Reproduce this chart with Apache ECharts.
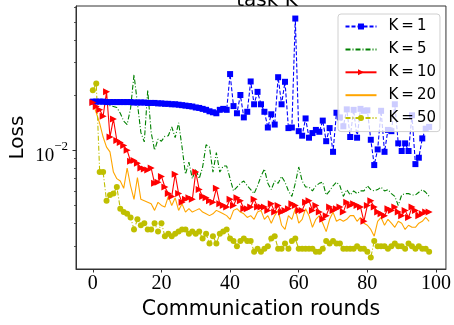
<!DOCTYPE html>
<html>
<head>
<meta charset="utf-8">
<script src="https://cdn.jsdelivr.net/npm/echarts@6/dist/echarts.min.js"></script>
<style>
  html, body { margin: 0; padding: 0; background: #fff; }
  #chart { width: 454px; height: 325px; }
</style>
</head>
<body>
<div id="chart"></div>
<script>
// communication rounds 0..98
var rounds = [0, 1, 2, 3, 4, 5, 6, 7, 8, 9, 10, 11, 12, 13, 14, 15, 16, 17, 18, 19,
    20, 21, 22, 23, 24, 25, 26, 27, 28, 29, 30, 31, 32, 33, 34, 35, 36, 37, 38, 39,
    40, 41, 42, 43, 44, 45, 46, 47, 48, 49, 50, 51, 52, 53, 54, 55, 56, 57, 58, 59,
    60, 61, 62, 63, 64, 65, 66, 67, 68, 69, 70, 71, 72, 73, 74, 75, 76, 77, 78, 79,
    80, 81, 82, 83, 84, 85, 86, 87, 88, 89, 90, 91, 92, 93, 94, 95, 96, 97, 98];

var lossK1 = [0.0184, 0.0184, 0.0184, 0.0184, 0.0183, 0.0183, 0.0183, 0.0183, 0.0183, 0.0183,
    0.0183, 0.0183, 0.0182, 0.0182, 0.0182, 0.0182, 0.0181, 0.0181, 0.0181, 0.0180,
    0.0180, 0.0179, 0.0179, 0.0178, 0.0178, 0.0177, 0.0176, 0.0175, 0.0174, 0.0173,
    0.0171, 0.0170, 0.0168, 0.0166, 0.0163, 0.0161, 0.0159, 0.0166, 0.0168, 0.0166,
    0.0260, 0.0174, 0.0159, 0.0200, 0.0151, 0.0162, 0.0237, 0.0178, 0.0208, 0.0178,
    0.0162, 0.0133, 0.0157, 0.0138, 0.0250, 0.0178, 0.0236, 0.0132, 0.0133, 0.0522,
    0.0127, 0.0120, 0.0149, 0.0117, 0.0124, 0.0129, 0.0126, 0.0145, 0.0112, 0.0132,
    0.0098, 0.0160, 0.0151, 0.0135, 0.0167, 0.0118, 0.0166, 0.0117, 0.0168, 0.0164,
    0.0165, 0.0114, 0.0083, 0.0101, 0.0164, 0.0098, 0.0129, 0.0127, 0.0178, 0.0109,
    0.0099, 0.0109, 0.0099, 0.0155, 0.0084, 0.0091, 0.0116, 0.0131, 0.0134];

var lossK5 = [0.0182, 0.0181, 0.0180, 0.0179, 0.0178, 0.0175, 0.0173, 0.0171, 0.0159, 0.0144,
    0.0138, 0.0169, 0.0258, 0.0180, 0.0125, 0.0111, 0.0213, 0.0125, 0.0100, 0.0115,
    0.0112, 0.0119, 0.0120, 0.0134, 0.0117, 0.0141, 0.0104, 0.0074, 0.0086, 0.0070,
    0.0079, 0.0070, 0.0081, 0.0107, 0.0104, 0.0076, 0.0097, 0.0076, 0.0082, 0.0082,
    0.0070, 0.0060, 0.0063, 0.0066, 0.0068, 0.0064, 0.0061, 0.0058, 0.0064, 0.0072,
    0.0079, 0.0066, 0.0061, 0.0068, 0.0066, 0.0072, 0.0067, 0.0060, 0.0056, 0.0066,
    0.0081, 0.0068, 0.0063, 0.0063, 0.0060, 0.0064, 0.0066, 0.0067, 0.0057, 0.0060,
    0.0064, 0.0067, 0.0064, 0.0056, 0.0061, 0.0057, 0.0060, 0.0058, 0.0060, 0.0060,
    0.0064, 0.0061, 0.0060, 0.0061, 0.0063, 0.0060, 0.0061, 0.0058, 0.0056, 0.0050,
    0.0057, 0.0058, 0.0058, 0.0057, 0.0057, 0.0059, 0.0061, 0.0059, 0.0056];

var lossK10 = [0.0182, 0.0173, 0.0166, 0.0153, 0.0208, 0.0118, 0.0148, 0.0113, 0.0110, 0.0106,
    0.0100, 0.0087, 0.0088, 0.0085, 0.0080, 0.0079, 0.0078, 0.0080, 0.0066, 0.0067,
    0.0072, 0.0063, 0.0058, 0.0056, 0.0074, 0.0058, 0.0052, 0.0054, 0.0055, 0.0054,
    0.0076, 0.0061, 0.0056, 0.0055, 0.0053, 0.0052, 0.0062, 0.0051, 0.0050, 0.0049,
    0.0054, 0.0050, 0.0055, 0.0053, 0.0048, 0.0048, 0.0049, 0.0054, 0.0049, 0.0049,
    0.0049, 0.0047, 0.0051, 0.0046, 0.0050, 0.0046, 0.0047, 0.0048, 0.0051, 0.0050,
    0.0047, 0.0047, 0.0052, 0.0053, 0.0047, 0.0050, 0.0046, 0.0042, 0.0044, 0.0049,
    0.0047, 0.0048, 0.0049, 0.0046, 0.0052, 0.0050, 0.0051, 0.0050, 0.0049, 0.0041,
    0.0050, 0.0053, 0.0049, 0.0046, 0.0045, 0.0044, 0.0048, 0.0047, 0.0049, 0.0046,
    0.0044, 0.0047, 0.0043, 0.0049, 0.0047, 0.0044, 0.0045, 0.0046, 0.0046];

var lossK20 = [0.0182, 0.0160, 0.0140, 0.0118, 0.0104, 0.0098, 0.0076, 0.0070, 0.0068, 0.0062,
    0.0080, 0.0064, 0.0054, 0.0071, 0.0054, 0.0053, 0.0052, 0.0051, 0.0047, 0.0052,
    0.0050, 0.0049, 0.0056, 0.0050, 0.0055, 0.0047, 0.0051, 0.0046, 0.0048, 0.0046,
    0.0047, 0.0048, 0.0046, 0.0045, 0.0044, 0.0045, 0.0047, 0.0046, 0.0045, 0.0044,
    0.0042, 0.0047, 0.0048, 0.0046, 0.0045, 0.0043, 0.0044, 0.0042, 0.0046, 0.0047,
    0.0042, 0.0044, 0.0040, 0.0044, 0.0047, 0.0039, 0.0037, 0.0044, 0.0042, 0.0048,
    0.0040, 0.0042, 0.0048, 0.0044, 0.0038, 0.0042, 0.0044, 0.0040, 0.0036, 0.0042,
    0.0046, 0.0041, 0.0042, 0.0041, 0.0042, 0.0044, 0.0044, 0.0041, 0.0043, 0.0040,
    0.0039, 0.0037, 0.0034, 0.0041, 0.0043, 0.0039, 0.0042, 0.0040, 0.0038, 0.0041,
    0.0040, 0.0037, 0.0039, 0.0038, 0.0038, 0.0040, 0.0041, 0.0043, 0.0041];

var lossK50 = [0.0212, 0.0231, 0.0076, 0.0076, 0.0053, 0.0057, 0.0058, 0.0063, 0.0048, 0.0046,
    0.0045, 0.0043, 0.0037, 0.0042, 0.0039, 0.0040, 0.0037, 0.0037, 0.0040, 0.0036,
    0.0040, 0.0034, 0.0035, 0.0034, 0.0035, 0.0036, 0.0037, 0.0037, 0.0035, 0.0036,
    0.0035, 0.0036, 0.0033, 0.0035, 0.0031, 0.0034, 0.0031, 0.0035, 0.0036, 0.0037,
    0.0033, 0.0032, 0.0030, 0.0032, 0.0033, 0.0032, 0.0032, 0.0028, 0.0029, 0.0028,
    0.0029, 0.0030, 0.0033, 0.0034, 0.0029, 0.0029, 0.0031, 0.0029, 0.0032, 0.0033,
    0.0029, 0.0029, 0.0029, 0.0029, 0.0029, 0.0028, 0.0028, 0.0029, 0.0032, 0.0031,
    0.0032, 0.0031, 0.0031, 0.0029, 0.0029, 0.0029, 0.0029, 0.0030, 0.0029, 0.0029,
    0.0028, 0.0026, 0.0032, 0.0030, 0.0030, 0.0030, 0.0029, 0.0030, 0.0031, 0.0030,
    0.0030, 0.0029, 0.0031, 0.0030, 0.0029, 0.0030, 0.0029, 0.0029, 0.0028];

var seriesNames = ['K\u2009=\u20091', 'K\u2009=\u20095', 'K\u2009=\u200910', 'K\u2009=\u200920', 'K\u2009=\u200950'];

var xTicks = [0, 20, 40, 60, 80, 100];
var yMajorTicks = [0.01];
var yMinorTicks = [0.003, 0.004, 0.005, 0.006, 0.007, 0.008, 0.009, 0.02, 0.03, 0.04, 0.05, 0.06];

var xMin = -4.9, xMax = 102.9;
var yMin = 0.002252, yMax = 0.0611;

var spine = '#333';
var sansFont = 'DejaVu Sans';
var serifFont = 'Liberation Serif';

function pairs(ys) {
    return rounds.map(function (x, i) { return [x, ys[i]]; });
}
function lg(v) { return Math.log10(v); }

// lines without markers: hide the marker the legend would draw
var noMarker = [false, true, false, true, false];
var legendData = seriesNames.map(function (n, i) {
    return noMarker[i] ? { name: n, itemStyle: { opacity: 0 } } : { name: n };
});

var chart = echarts.init(document.getElementById('chart'), null, { renderer: 'canvas' });

var option = {
    animation: false,
    backgroundColor: '#fff',
    title: {
        text: 'task K',
        left: 262,
        textAlign: 'center',
        top: -14,
        textStyle: { fontFamily: sansFont, fontSize: 20, fontWeight: 'normal', color: '#000' }
    },
    grid: {
        left: 76, right: 6.5, top: 6, bottom: 46.7,
        show: true, borderColor: spine, borderWidth: 1, backgroundColor: 'transparent'
    },
    legend: {
        data: legendData,
        orient: 'vertical',
        left: 338,
        top: 14,
        padding: [5, 4, 6, 6.5],
        itemWidth: 31,
        itemHeight: 7.5,
        itemGap: 7.9,
        backgroundColor: 'rgba(255,255,255,0.8)',
        borderColor: '#d0d0d0',
        borderWidth: 1,
        borderRadius: 3,
        textStyle: { fontFamily: sansFont, fontSize: 15, color: '#000', lineHeight: 14, padding: [0, 0, 0, 7] }
    },
    xAxis: {
        type: 'value',
        min: xMin,
        max: xMax,
        name: 'Communication rounds',
        nameLocation: 'middle',
        nameGap: 30,
        nameTextStyle: { fontFamily: sansFont, fontSize: 20.5, color: '#000' },
        axisLine: { show: true, lineStyle: { color: spine, width: 1 } },
        axisTick: { show: true, customValues: xTicks, length: 3.5, lineStyle: { color: spine, width: 1 } },
        axisLabel: { customValues: xTicks, fontFamily: serifFont, fontSize: 20, color: '#000', margin: 5 },
        splitLine: { show: false }
    },
    yAxis: [
        {
            type: 'log',
            logBase: 10,
            min: yMin,
            max: yMax,
            name: 'Loss',
            nameLocation: 'middle',
            nameGap: 48,
            nameTextStyle: { fontFamily: sansFont, fontSize: 20, color: '#000' },
            axisLine: { show: false },
            axisTick: { show: false },
            axisLabel: { show: false },
            splitLine: { show: false }
        },
        {
            type: 'value',
            position: 'left',
            min: lg(yMin),
            max: lg(yMax),
            axisLine: { show: true, lineStyle: { color: spine, width: 1 } },
            axisTick: { show: true, customValues: yMajorTicks.map(lg), length: 3.5, lineStyle: { color: spine, width: 1 } },
            axisLabel: {
                customValues: yMajorTicks.map(lg),
                margin: 8,
                formatter: function (v) {
                    return '{a|10}{b|\u2212' + Math.round(-v) + '}';
                },
                rich: {
                    a: { fontFamily: serifFont, fontSize: 19, color: '#000', lineHeight: 20, padding: [11, 0, 0, 0] },
                    b: { fontFamily: serifFont, fontSize: 13, color: '#000', lineHeight: 13, verticalAlign: 'top' }
                }
            },
            splitLine: { show: false }
        },
        {
            type: 'value',
            position: 'left',
            min: lg(yMin),
            max: lg(yMax),
            axisLine: { show: false },
            axisTick: { show: true, customValues: yMinorTicks.map(lg), length: 2, lineStyle: { color: spine, width: 0.8 } },
            axisLabel: { show: false },
            splitLine: { show: false }
        }
    ],
    series: [
        {
            name: seriesNames[0],
            type: 'line',
            data: pairs(lossK1),
            symbol: 'rect',
            symbolSize: 6,
            itemStyle: { color: '#0000ff' },
            lineStyle: { color: '#0000ff', width: 1.1, type: [4, 2] }
        },
        {
            name: seriesNames[1],
            type: 'line',
            data: pairs(lossK5),
            symbol: 'none',
            itemStyle: { color: '#008000' },
            lineStyle: { color: '#008000', width: 1.1, type: [5, 2, 1, 2] }
        },
        {
            name: seriesNames[2],
            type: 'line',
            data: pairs(lossK10),
            symbol: 'path://M0,0 L10,5 L0,10 Z',
            symbolSize: 7,
            itemStyle: { color: '#ff0000' },
            lineStyle: { color: '#ff0000', width: 1.1 }
        },
        {
            name: seriesNames[3],
            type: 'line',
            data: pairs(lossK20),
            symbol: 'none',
            itemStyle: { color: '#ffa500' },
            lineStyle: { color: '#ffa500', width: 1.1 }
        },
        {
            name: seriesNames[4],
            type: 'line',
            data: pairs(lossK50),
            symbol: 'circle',
            symbolSize: 6,
            itemStyle: { color: '#bfbf00' },
            lineStyle: { color: '#bfbf00', width: 1.1, type: [5, 2, 1, 2] }
        }
    ]
};

chart.setOption(option);
</script>
</body>
</html>
